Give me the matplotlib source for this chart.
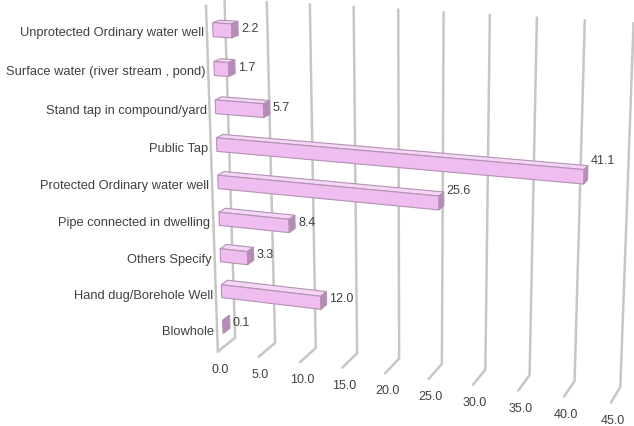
import numpy as np
import matplotlib
matplotlib.use("Agg")
import matplotlib.pyplot as plt
import matplotlib.transforms as mtransforms
from mpl_toolkits.mplot3d import proj3d
from mpl_toolkits.mplot3d.art3d import Poly3DCollection

# Water source categories, listed top to bottom
categories = [
    "Unprotected Ordinary water well",
    "Surface water (river stream , pond)",
    "Stand tap in compound/yard",
    "Public Tap",
    "Protected Ordinary water well",
    "Pipe connected in dwelling",
    "Others Specify",
    "Hand dug/Borehole Well",
    "Blowhole",
]
values = [2.2, 1.7, 5.7, 41.1, 25.6, 8.4, 3.3, 12.0, 0.1]
tick_values = [0, 5, 10, 15, 20, 25, 30, 35, 40, 45]
tick_labels = [f"{t:.1f}" for t in tick_values]

# vertical nudge (pixels) for the value labels of the two longest bars
label_lift = [0, 0, 0, 13, 9, 0, 0, 0, 0]

plt.rcParams['font.family'] = ['Liberation Sans', 'DejaVu Sans']

TEXT = '#404040'
GRID = '#c6c6c6'
FRONT = '#efbdef'
TOP = '#f6d6f6'
END = '#b98ab9'
EDGE = '#b392b3'

W, H = 634, 427
fig = plt.figure(figsize=(W / 100, H / 100), dpi=100)
S = 420
cx, cy = 408, 205
ax = fig.add_axes([(cx - S / 2) / W, (H - cy - S / 2) / H, S / W, S / H],
                  projection='3d', computed_zorder=False)
ax.set_proj_type('persp', focal_length=0.74)
ax.view_init(elev=16, azim=-71)
ax.set_box_aspect((412, 42, 349), zoom=1.286)
ax.set_axis_off()

n = len(categories)
zmax = float(n)
ztop = zmax + 0.16      # walls rise a little above the top category
zbot = -0.08            # floor sits slightly below the last category
depth = 1.0
ax.set_xlim(0, 45)
ax.set_ylim(0, depth)
ax.set_zlim(0, zmax)


def project(x, y, z):
    xs, ys, _ = proj3d.proj_transform(np.atleast_1d(x), np.atleast_1d(y),
                                      np.atleast_1d(z), ax.get_proj())
    return xs[0], ys[0]


def label(x, y, z, s, dx=0, dy=0, **kw):
    px, py = project(x, y, z)
    tr = mtransforms.offset_copy(ax.transData, fig=fig, x=dx, y=dy,
                                 units='dots')
    ax.text2D(px, py, s, transform=tr, color=TEXT, zorder=3,
              clip_on=False, **kw)


# value gridlines: floor segment, then up the back wall
for v in tick_values:
    ax.plot([v, v, v], [0, depth, depth], [zbot, zbot, ztop],
            color=GRID, lw=1.8, solid_capstyle='round', zorder=1,
            clip_on=False)
# front edge of the side wall at zero
ax.plot([0, 0], [0, 0], [zbot, ztop], color=GRID, lw=1.8, zorder=1,
        clip_on=False)

y0, y1 = 0.32, 0.68
half = 0.18
for i, (name, v) in enumerate(zip(categories, values)):
    zc = n - i - 0.5
    z0, z1 = zc - half, zc + half
    front = [(0, y0, z0), (v, y0, z0), (v, y0, z1), (0, y0, z1)]
    top = [(0, y0, z1), (v, y0, z1), (v, y1, z1), (0, y1, z1)]
    end = [(v, y0, z0), (v, y1, z0), (v, y1, z1), (v, y0, z1)]
    pc = Poly3DCollection([top, front, end],
                          facecolors=[TOP, FRONT, END],
                          edgecolors=EDGE, linewidths=0.8, zorder=2)
    pc.set_clip_on(False)
    ax.add_collection3d(pc)
    label(v, y1, zc, f"{v:.1f}", dx=3, dy=label_lift[i],
          ha='left', va='center', fontsize=9)
    label(0, 0, zc, name, dx=-3, ha='right', va='center', fontsize=9.25)

for v, lab in zip(tick_values, tick_labels):
    label(v, 0, zbot, lab, dx=2, dy=-17, ha='center', va='center',
          fontsize=9)

ax.set_xlim(0, 45)
ax.set_ylim(0, depth)
ax.set_zlim(0, zmax)

fig.savefig('out.png', dpi=100)
